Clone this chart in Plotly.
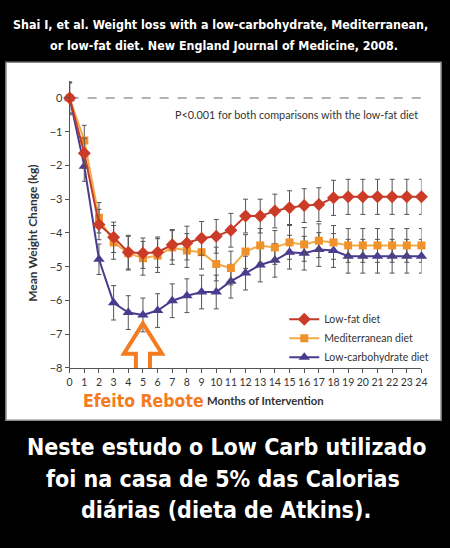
import plotly.graph_objects as go


# -----------------------------
# DATA
# -----------------------------
months = list(range(25))

low_fat = [0, -1.64, -3.75, -4.13, -4.57, -4.60, -4.57, -4.35, -4.30, -4.16, -4.10, -3.92, -3.50,
           -3.50, -3.35, -3.25, -3.19, -3.16, -2.96, -2.93, -2.93, -2.93, -2.93, -2.93, -2.93]
low_fat_err = [0.50, 0.45, 0.45, 0.45, 0.50, 0.45, 0.45, 0.45, 0.50, 0.50, 0.50, 0.50, 0.50,
               0.50, 0.50, 0.50, 0.50, 0.50, 0.52, 0.52, 0.52, 0.52, 0.52, 0.52, 0.52]

mediterranean = [0, -1.26, -3.55, -4.28, -4.60, -4.75, -4.67, -4.43, -4.52, -4.57, -4.92, -5.04, -4.55,
                 -4.37, -4.43, -4.28, -4.34, -4.23, -4.28, -4.37, -4.37, -4.37, -4.37, -4.37, -4.37]
mediterranean_err = [0.45, 0.45, 0.45, 0.50, 0.50, 0.50, 0.50, 0.50, 0.50, 0.50, 0.50, 0.50, 0.50,
                     0.50, 0.50, 0.50, 0.50, 0.50, 0.50, 0.50, 0.50, 0.50, 0.50, 0.50, 0.50]

low_carb = [0, -2.02, -4.78, -6.07, -6.36, -6.43, -6.30, -6.01, -5.86, -5.75, -5.75, -5.43, -5.19,
            -4.95, -4.81, -4.57, -4.60, -4.49, -4.52, -4.69, -4.69, -4.69, -4.69, -4.69, -4.69]
low_carb_err = [0.45, 0.45, 0.45, 0.51, 0.50, 0.50, 0.50, 0.50, 0.50, 0.50, 0.50, 0.50, 0.50,
                0.50, 0.50, 0.50, 0.50, 0.50, 0.50, 0.50, 0.50, 0.50, 0.50, 0.50, 0.50]

y_ticks = [0, -1, -2, -3, -4, -5, -6, -7, -8]

title_lines = [
    "Shai I, et al. Weight loss with a low-carbohydrate, Mediterranean,",
    "or low-fat diet. New England Journal of Medicine, 2008.",
]
footer_lines = [
    "Neste estudo o Low Carb utilizado",
    "foi na casa de 5% das Calorias ",
    "diárias (dieta de Atkins).",
]

NARROW = "DejaVu Sans Condensed, Liberation Sans Narrow, sans-serif"
BODY = "Lato, Open Sans, sans-serif"
ORANGE_NOTE = "#f47b20"


def diet_trace(name, values, errors, color, line_color, symbol, size, rank):
    return go.Scatter(
        x=months,
        y=values,
        name=name,
        mode="lines+markers",
        line=dict(color=line_color, width=2),
        marker=dict(color=color, symbol=symbol, size=size),
        error_y=dict(type="data", array=errors, color="#555555", thickness=1, width=2.5),
        cliponaxis=False,
        legendrank=rank,
    )


def narrow_font(size, color):
    return dict(family=NARROW, size=size, color=color, weight="bold")


def note(text, x_px, y_px, font, **kw):
    # pixel position -> paper position, always centred on the point unless told otherwise
    d = dict(text=text, xref="paper", yref="paper", x=x_px / 450, y=1 - y_px / 548,
             xanchor="center", yanchor="middle", showarrow=False, font=font)
    d.update(kw)
    return d


fig = go.Figure()

# purple first so red sits on top, like the original
fig.add_trace(diet_trace("Low-carbohydrate diet", low_carb, low_carb_err,
                         "#4b3b8f", "#4b3b8f", "triangle-up", 10, 3))
fig.add_trace(diet_trace("Mediterranean diet", mediterranean, mediterranean_err,
                         "#f0922b", "#f3ab45", "square", 8, 2))
fig.add_trace(diet_trace("Low-fat diet", low_fat, low_fat_err,
                         "#cc3b28", "#c23a2c", "diamond", 10, 1))

# -----------------------------
# SHAPES: white panel, zero line, arrow
# -----------------------------
shapes = [
    dict(type="rect", xref="paper", yref="paper", x0=3 / 450, x1=447 / 450,
         y0=1 - 425 / 548, y1=1 - 63 / 548, fillcolor="white",
         line=dict(color="#8a8a8a", width=1.5), layer="below"),
    dict(type="line", xref="x", yref="y", x0=months[0], x1=months[-1], y0=0, y1=0,
         line=dict(color="#666666", width=1, dash="dash"), layer="below"),
]

# arrow pointing at the low-carb minimum
i_min = low_carb.index(min(low_carb))
tip_x = months[i_min]
tip_y = low_carb[i_min] - 0.25
head_y = tip_y - 0.9
foot_y = tip_y - 1.8
arrow = (f"M {tip_x},{tip_y} L {tip_x + 1.3},{head_y} L {tip_x + 0.48},{head_y} "
         f"L {tip_x + 0.48},{foot_y} L {tip_x - 0.48},{foot_y} L {tip_x - 0.48},{head_y} "
         f"L {tip_x - 1.3},{head_y} Z")
shapes.append(dict(type="path", xref="x", yref="y", path=arrow,
                   line=dict(color=ORANGE_NOTE, width=4), layer="above"))

# -----------------------------
# TEXT
# -----------------------------
annotations = [
    note(title_lines[0], 222, 25, narrow_font(12.4, "white")),
    note(title_lines[1], 225, 46, narrow_font(12.4, "white")),
]
for i, line in enumerate(footer_lines):
    annotations.append(note(line, 228, 452 + 32 * i, narrow_font(23, "white")))

annotations += [
    note("P<0.001 for both comparisons with the low-fat diet", 425, 116,
         dict(family=BODY, size=10.8, color="#333333"), xanchor="right"),
    note("Mean Weight Change (kg)", 30, 236,
         dict(family=BODY, size=12, color="#333333", weight="bold"), textangle=-90),
    note("Months of Intervention", 268, 405,
         dict(family=BODY, size=11.3, color="#333333", weight="bold")),
    note("Efeito Rebote", 143, 405, narrow_font(17.5, ORANGE_NOTE)),
]

# -----------------------------
# LAYOUT
# -----------------------------
fig.update_layout(
    width=450,
    height=548,
    margin=dict(l=0, r=0, t=0, b=0),
    paper_bgcolor="black",
    plot_bgcolor="rgba(0,0,0,0)",
    showlegend=True,
    legend=dict(x=287 / 450, y=1 - 342 / 548, xanchor="left", yanchor="middle",
                bgcolor="rgba(0,0,0,0)", font=dict(family=BODY, size=10.5, color="#333333")),
    shapes=shapes,
    annotations=annotations,
    xaxis=dict(
        domain=[68 / 450, 427 / 450],
        range=[months[0], months[-1]],
        tickvals=months,
        tickangle=0,
        ticks="outside", ticklen=4, tickcolor="#555555",
        showline=True, linecolor="#555555", linewidth=1,
        showgrid=False, zeroline=False,
        tickfont=dict(family=BODY, size=10.5, color="#333333"),
    ),
    yaxis=dict(
        domain=[1 - 372 / 548, 1 - 82 / 548],
        range=[y_ticks[-1], 0.5],
        tickvals=y_ticks,
        ticks="outside", ticklen=4, tickcolor="#555555",
        showline=True, linecolor="#555555", linewidth=1,
        showgrid=False, zeroline=False,
        tickfont=dict(family=BODY, size=11, color="#333333"),
    ),
)

# page margin off so the 450x548 figure fills the window
fig.write_html("out.html", config={"displayModeBar": False},
               post_script="document.body.style.margin='0';"
                           "document.body.style.background='black';")
